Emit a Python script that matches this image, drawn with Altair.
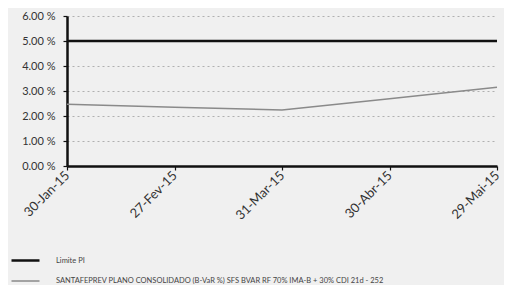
import altair as alt
import pandas as pd

dates = ["30-Jan-15", "27-Fev-15", "31-Mar-15", "30-Abr-15", "29-Mai-15"]
limite = [5.00, 5.00, 5.00, 5.00, 5.00]
santa = [2.47, 2.35, 2.24, 2.69, 3.15]
s1 = "Limite PI"
s2 = "SANTAFEPREV PLANO CONSOLIDADO (B-VaR %) SFS BVAR RF 70% IMA-B + 30% CDI 21d - 252"

rows = []
for i, d in enumerate(dates):
    rows.append({"date": d, "serie": s1, "v": limite[i], "o": 0})
    rows.append({"date": d, "serie": s2, "v": santa[i], "o": 1})
df = pd.DataFrame(rows)

font = "Lato"
chart = alt.Chart(df).mark_line(strokeCap="butt").encode(
    x=alt.X("date:N", sort=dates, title=None,
            scale=alt.Scale(type="point", padding=0),
            axis=alt.Axis(labelAngle=-45, labelAlign="right", labelBaseline="middle",
                          labelFontSize=13, labelColor="#333", labelFont=font,
                          domainColor="#111", domainWidth=2.5, tickColor="#111",
                          tickSize=4, tickWidth=1.2, grid=False, labelPadding=3)),
    y=alt.Y("v:Q", title=None, scale=alt.Scale(domain=[0, 6]),
            axis=alt.Axis(values=[0, 1, 2, 3, 4, 5, 6],
                          labelExpr="format(datum.value, '.2f') + ' %'",
                          labelFontSize=11, labelColor="#333", labelFont=font,
                          domainColor="#111", domainWidth=2.5, tickColor="#111",
                          tickSize=4, tickWidth=1.2, labelPadding=8,
                          grid=True, gridColor="#b0b0b0", gridDash=[2, 3], gridWidth=1)),
    color=alt.Color("serie:N", sort=[s1, s2],
                    scale=alt.Scale(domain=[s1, s2], range=["#111111", "#8a8a8a"]),
                    legend=alt.Legend(title=None, orient="none", legendX=-57, legendY=229,
                                      direction="vertical", symbolType="stroke",
                                      symbolSize=784, symbolStrokeWidth=2,
                                      labelFontSize=7.5, labelColor="#444", labelFont=font,
                                      rowPadding=-8, labelLimit=500, labelOffset=15)),
    strokeWidth=alt.StrokeWidth("serie:N", scale=alt.Scale(domain=[s1, s2], range=[2.5, 1.5]), legend=None),
    order="o:Q",
).properties(
    width=430, height=150,
    background="#f0f0f0",
    padding={"left": 59, "top": 8, "right": 7, "bottom": 119},
    autosize=alt.AutoSizeParams(type="none"),
).configure_view(stroke=None)

chart.save("out.html", embed_options={"renderer": "svg", "actions": False})
